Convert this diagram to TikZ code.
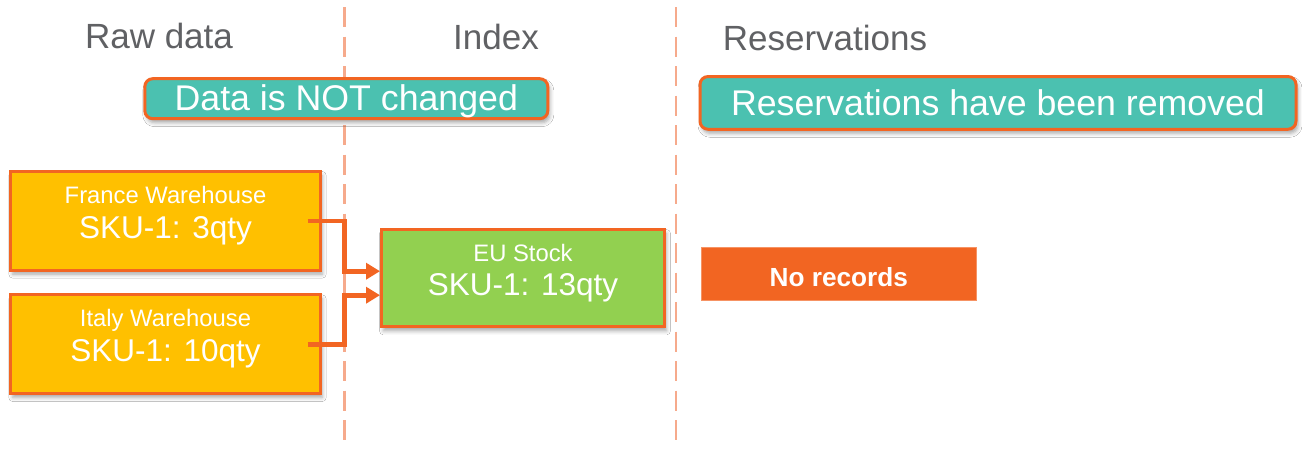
\documentclass[tikz,border=0pt]{standalone}
\usepackage{fontspec}
\setmainfont{Liberation Sans}
\usetikzlibrary{arrows.meta,calc,shadows.blur}
\definecolor{orng}{HTML}{F26522}
\definecolor{teal2}{HTML}{4BC1B0}
\definecolor{amber}{HTML}{FFC000}
\definecolor{lgreen}{HTML}{92D050}
\definecolor{sepc}{HTML}{F6AA8C}
\definecolor{titlegray}{HTML}{606164}
\tikzset{
  sepline/.style={draw=sepc, line width=2.6pt, dash pattern=on 20pt off 9.5pt},
  coltitle/.style={anchor=base, text=titlegray, font=\fontsize{35}{40}\selectfont, inner sep=0pt},
  tealbox/.style={draw=orng, line width=3pt, fill=teal2, rounded corners=8pt, inner sep=0pt,
     blur shadow={shadow xshift=2pt, shadow yshift=-4pt, shadow blur radius=4pt, shadow opacity=35}},
  stockbox/.style={draw=orng, line width=3pt, inner sep=0pt,
     blur shadow={shadow xshift=2pt, shadow yshift=-4pt, shadow blur radius=4pt, shadow opacity=35}},
  bigtxt/.style={anchor=base, text=white, font=\fontsize{35.7}{40}\selectfont, inner sep=0pt},
  smalltxt/.style={anchor=base, text=white, font=\fontsize{23.8}{28}\selectfont, inner sep=0pt},
  skutxt/.style={anchor=base, text=white, font=\fontsize{31.5}{36}\selectfont, inner sep=0pt},
  arr/.style={draw=orng, line width=4.6pt, -{Triangle[length=14pt,width=16pt]}},
}
\begin{document}
\begin{tikzpicture}[x=1pt,y=-1pt]
\useasboundingbox[fill=white] (0,0) rectangle (1302,448);
% separators
\draw[sepline] (344.3,7) -- (344.3,448);
\draw[sepline] (676,7) -- (676,448);
% column titles
\node[coltitle] (t1) at (159,48.5) {Raw data};
\node[coltitle] (t2) at (496,49) {Index};
\node[coltitle] (t3) at (825,50) {Reservations};
% teal banners
\node[tealbox, minimum width=403pt, minimum height=40pt] (b1) at (346.3,98.7) {};
\node[bigtxt] (b1t) at ($(b1.center)+(0,12)$) {Data is NOT changed};
\node[tealbox, minimum width=596pt, minimum height=52.7pt] (b2) at (998,102.9) {};
\node[bigtxt] (b2t) at ($(b2.center)+(0,13)$) {Reservations have been removed};
% warehouses
\node[stockbox, fill=amber, minimum width=309.4pt, minimum height=98.7pt] (fr) at (165.5,220.8) {};
\node[smalltxt] (frl) at ($(fr.center)+(0,-17)$) {France Warehouse};
\node[skutxt] (frq) at ($(fr.center)+(0,17.2)$) {SKU-1: 3qty};
\node[stockbox, fill=amber, minimum width=309.4pt, minimum height=98.7pt] (it) at (165.5,344.2) {};
\node[smalltxt] (itl) at ($(it.center)+(0,-17.5)$) {Italy Warehouse};
\node[skutxt] (itq) at ($(it.center)+(0,17.5)$) {SKU-1: 10qty};
% EU stock
\node[stockbox, fill=lgreen, minimum width=283pt, minimum height=97.3pt] (eu) at (523,278.2) {};
\node[smalltxt] (eul) at ($(eu.center)+(0,-16.5)$) {EU Stock};
\node[skutxt] (euq) at ($(eu.center)+(0,16.8)$) {SKU-1: 13qty};
% no records
\node[fill=orng, draw=orng!70!white, line width=0.8pt, minimum width=275pt, minimum height=53pt, inner sep=0pt] (nr) at (838.8,274) {};
\node[anchor=base, text=white, font=\bfseries\fontsize{26.2}{30}\selectfont, inner sep=0pt] (nrt) at ($(nr.center)+(0,12)$) {No records};
% connectors
\draw[arr] ([xshift=-14pt]fr.east) -- ++(37,0) |- ([yshift=7pt]eu.west);
\draw[arr] ([xshift=-14pt]it.east) -- ++(37,0) |- ([yshift=-17pt]eu.west);
\end{tikzpicture}
\end{document}
